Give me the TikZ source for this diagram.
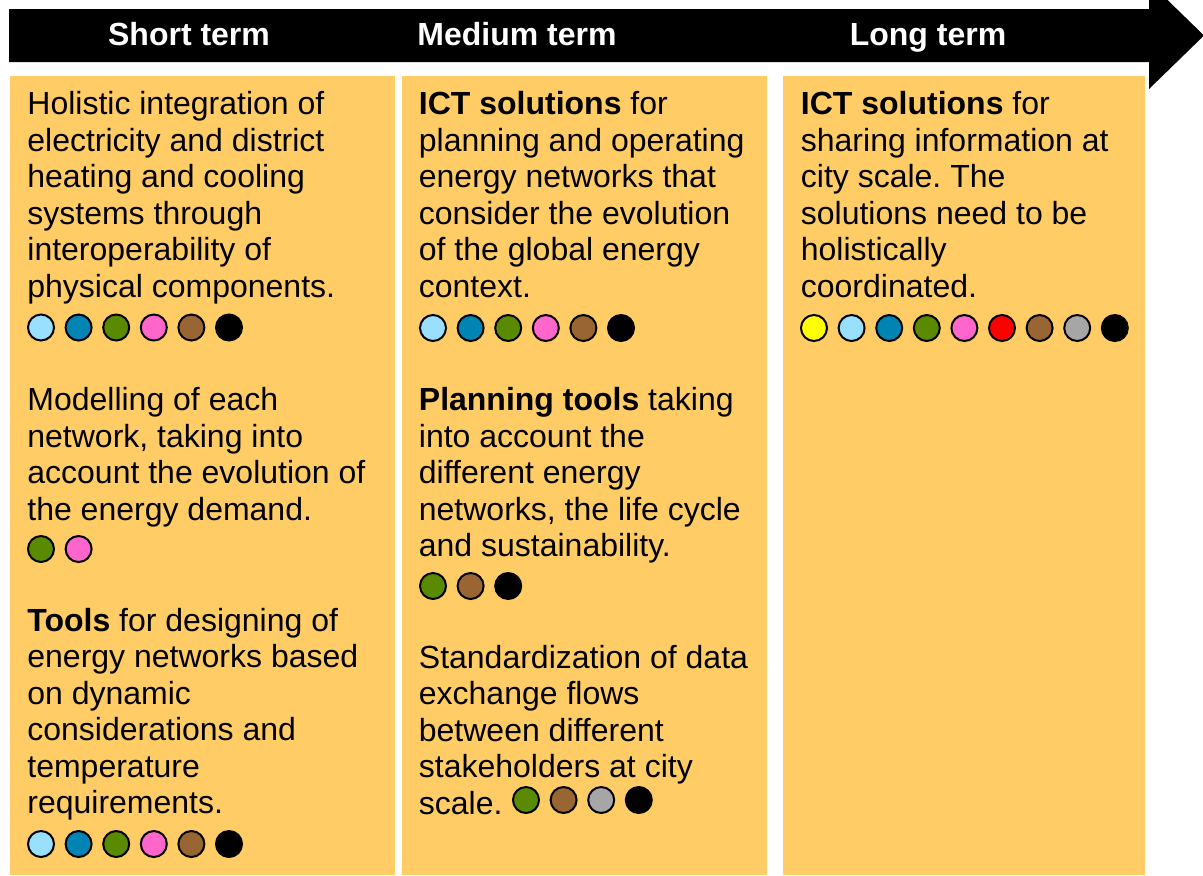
\documentclass[tikz,border=0pt]{standalone}
\usepackage{fontspec}
\setmainfont{Liberation Sans}
\frenchspacing
\definecolor{panel}{HTML}{FFCC66}
\definecolor{dYellow}{HTML}{FFFF00}
\definecolor{dSky}{HTML}{99E0FF}
\definecolor{dBlue}{HTML}{0084B4}
\definecolor{dGreen}{HTML}{5A8A00}
\definecolor{dPink}{HTML}{FF66CC}
\definecolor{dRed}{HTML}{FF0000}
\definecolor{dBrown}{HTML}{996633}
\definecolor{dGrey}{HTML}{A6A6A6}
\newcommand\dotrow[4]{\foreach \c [count=\i from 0] in {#4}
  \node[dot,fill=\c] (#1\i) at ({#2+37.6*\i},#3) {};}
\begin{document}
\begin{tikzpicture}[x=0.5pt,y=-0.5pt,
 dot/.style={circle,draw=black,line width=1pt,minimum size=13pt,inner sep=0pt},
 txt/.style={anchor=north west,align=left,inner sep=0pt,font=\fontsize{16pt}{18.25pt}\selectfont,execute at begin node=\strut},
 head/.style={anchor=base,inner sep=0pt,text=white,font=\fontsize{16pt}{18.25pt}\selectfont\bfseries}]
\useasboundingbox (0,0) rectangle (1203,875);
\clip (0,0) rectangle (1203,875);
\fill (9,9)--(1149,9)--(1149,-18)--(1204,35.5)--(1149,89)--(1149,62)--(9,62)--cycle;
\node[head] (short) at (189,45) {Short term};
\node[head] (medium) at (517,45) {Medium term};
\node[head] (long) at (928,45) {Long term};
\fill[panel] (10,76) rectangle (395,875);
\fill[panel] (402,76) rectangle (767,875);
\fill[panel] (783,76) rectangle (1145,875);
\node[txt] (holistic) at (27,91) {Holistic integration of\\electricity and district\\heating and cooling\\systems through\\interoperability of\\physical components.};
\node[txt] (modelling) at (27,387) {Modelling of each\\network, taking into\\account the evolution of\\the energy demand.};
\node[txt] (tools) at (27,607.5) {\textbf{Tools} for designing of\\energy networks based\\on dynamic\\considerations and\\temperature\\requirements.};
\node[txt] (ictplan) at (418.5,91) {\textbf{ICT solutions} for\\planning and operating\\energy networks that\\consider the evolution\\of the global energy\\context.};
\node[txt] (planning) at (418.5,387) {\textbf{Planning tools} taking\\into account the\\different energy\\networks, the life cycle\\and sustainability.};
\node[txt] (standard) at (418.5,644.5) {Standardization of data\\exchange flows\\between different\\stakeholders at city\\scale.};
\node[txt] (ictshare) at (800.5,91) {\textbf{ICT solutions} for\\sharing information at\\city scale. The\\solutions need to be\\holistically\\coordinated.};
\dotrow{hol}{41}{327.5}{dSky,dBlue,dGreen,dPink,dBrown,black}
\dotrow{mod}{41}{549}{dGreen,dPink}
\dotrow{tool}{41}{844}{dSky,dBlue,dGreen,dPink,dBrown,black}
\dotrow{ictp}{433}{328}{dSky,dBlue,dGreen,dPink,dBrown,black}
\dotrow{plan}{433}{586}{dGreen,dBrown,black}
\dotrow{std}{526}{800}{dGreen,dBrown,dGrey,black}
\dotrow{icts}{814}{328}{dYellow,dSky,dBlue,dGreen,dPink,dRed,dBrown,dGrey,black}
\end{tikzpicture}
\end{document}
